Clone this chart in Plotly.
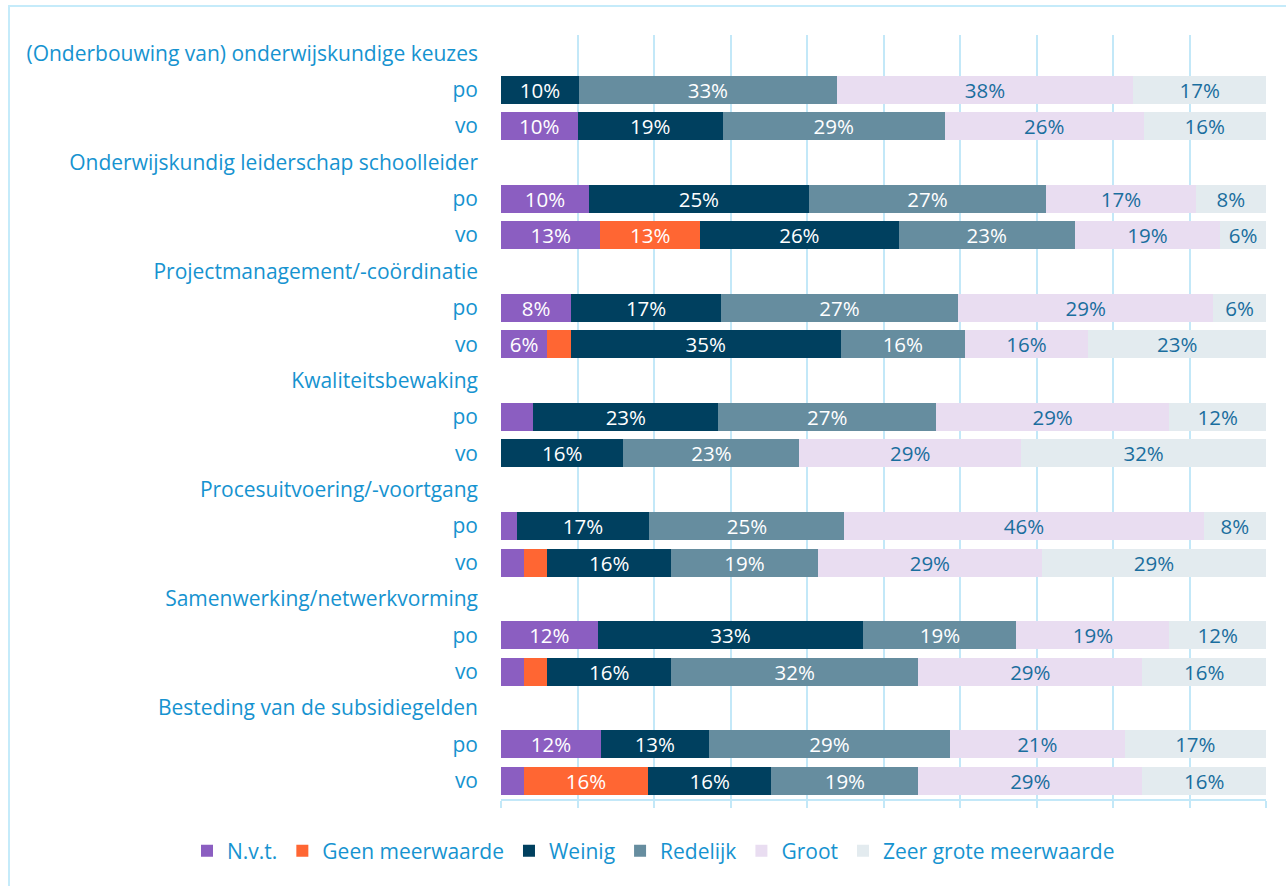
import plotly.graph_objects as go

groups = [
    "(Onderbouwing van) onderwijskundige keuzes",
    "Onderwijskundig leiderschap schoolleider",
    "Projectmanagement/-coördinatie",
    "Kwaliteitsbewaking",
    "Procesuitvoering/-voortgang",
    "Samenwerking/netwerkvorming",
    "Besteding van de subsidiegelden",
]
levels = ["po", "vo"]
series = ["N.v.t.", "Geen meerwaarde", "Weinig", "Redelijk", "Groot", "Zeer grote meerwaarde"]

# values per row, order: group1 po, group1 vo, group2 po, group2 vo, ...
nvt      = [0, 10, 10, 13, 8, 6, 4, 0, 2, 3, 12, 3, 12, 3]
geen     = [0, 0, 0, 13, 0, 3, 0, 0, 0, 3, 0, 3, 0, 16]
weinig   = [10, 19, 25, 26, 17, 35, 23, 16, 17, 16, 33, 16, 13, 16]
redelijk = [33, 29, 27, 23, 27, 16, 27, 23, 25, 19, 19, 32, 29, 19]
groot    = [38, 26, 17, 19, 29, 16, 29, 29, 46, 29, 19, 29, 21, 29]
zeer     = [17, 16, 8, 6, 6, 23, 12, 32, 8, 29, 12, 16, 17, 16]

colors = ["#8B5EC1", "#FF6633", "#00405F", "#668D9F", "#E9DDF1", "#E3EBEF"]
text_colors = ["white", "white", "white", "white", "#1A6E9E", "#1A6E9E"]
label_blue = "#1693D0"
grid_blue = "#C3E8F8"
FONT = "Open Sans"
FS = 21

# category keys (header row + po + vo per group)
all_keys, tick_text, row_keys, header_keys = [], [], [], []
for i, g in enumerate(groups):
    hk = f"{i}|h"
    all_keys.append(hk); tick_text.append(g); header_keys.append(hk)
    for lv in levels:
        k = f"{i}|{lv}"
        all_keys.append(k); tick_text.append(lv); row_keys.append(k)

fig = go.Figure()
fig.add_trace(go.Scatter(x=[0] * len(header_keys), y=header_keys, mode="markers",
                         marker=dict(opacity=0), showlegend=False, hoverinfo="skip"))

for name, vals, col, tcol in zip(series, [nvt, geen, weinig, redelijk, groot, zeer], colors, text_colors):
    fig.add_trace(go.Bar(
        name=name, orientation="h", y=row_keys, x=vals,
        marker=dict(color=col, line=dict(width=0)),
        text=[f"{v}%" if v >= 5 else "" for v in vals],
        textposition="inside", insidetextanchor="middle", textangle=0,
        constraintext="none",
        insidetextfont=dict(color=tcol, size=20.5, family=FONT),
        hovertemplate="%{y}: %{x:.1f}%<extra>" + name + "</extra>",
    ))

fig.update_layout(
    width=1286, height=886,
    margin=dict(l=501, r=20, t=35, b=87, autoexpand=False),
    barmode="stack", barnorm="percent", bargap=0.23,
    plot_bgcolor="white", paper_bgcolor="white",
    font=dict(family=FONT, size=FS, color=label_blue),
    uniformtext=dict(minsize=20, mode="show"),
    xaxis=dict(range=[0, 100], dtick=10, tick0=0, showgrid=True, gridcolor=grid_blue,
               gridwidth=2, showticklabels=False, ticks="outside", ticklen=7,
               tickcolor=grid_blue, tickwidth=2, showline=True, linecolor=grid_blue,
               linewidth=2, zeroline=False, fixedrange=True),
    yaxis=dict(type="category", categoryorder="array", categoryarray=all_keys,
               range=[len(all_keys) - 0.5, -0.5],
               tickmode="array", tickvals=all_keys, ticktext=tick_text,
               showgrid=False, ticks="", ticklabelstandoff=22,
               tickfont=dict(color=label_blue, size=FS, family=FONT), zeroline=False),
    legend=dict(orientation="h", xref="paper", x=(187 - 501) / 765, xanchor="left",
                yref="paper", y=(799 - 851) / 764, yanchor="middle",
                font=dict(color=label_blue, size=FS, family=FONT), traceorder="normal",
                itemwidth=30, tracegroupgap=0),
    shapes=[dict(type="rect", xref="paper", yref="paper",
                 x0=(9 - 501) / 765, x1=(1300 - 501) / 765,
                 y0=(799 - 900) / 764, y1=(799 - 6) / 764,
                 line=dict(color="#C5EBFA", width=2), layer="below")],
)

fig.write_html("out.html", config={"displayModeBar": False},
               post_script="document.body.style.margin='0';document.body.style.overflow='hidden';")
